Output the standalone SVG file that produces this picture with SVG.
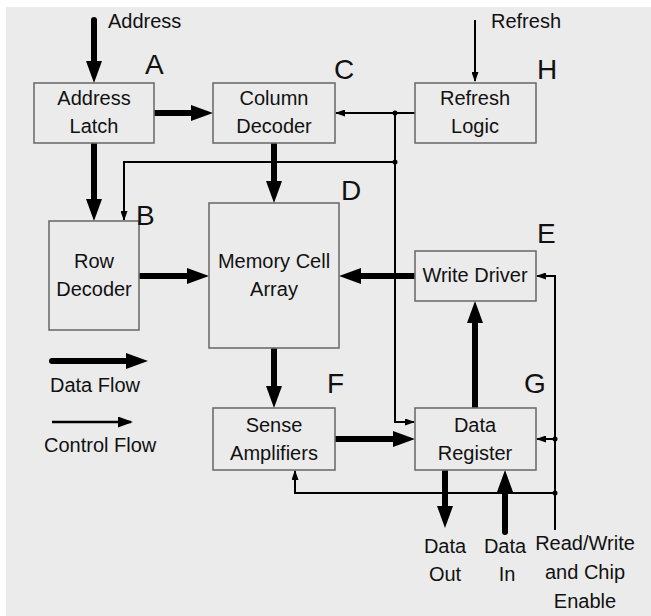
<svg xmlns="http://www.w3.org/2000/svg" width="651" height="616" viewBox="0 0 651 616">
<style>
.box{fill:#ebebeb;stroke:#6e6e6e;stroke-width:1.6}
.t{font-family:"Liberation Sans",Arial,sans-serif;font-size:20px;fill:#111;text-anchor:middle}
.ts{font-family:"Liberation Sans",Arial,sans-serif;font-size:20px;fill:#111}
.lbl{font-family:"Liberation Sans",Arial,sans-serif;font-size:28px;fill:#111}
.thick{fill:none;stroke:#000;stroke-width:6;stroke-linecap:round;marker-end:url(#th)}
.thin{fill:none;stroke:#000;stroke-width:2;marker-end:url(#tn)}
.line{fill:none;stroke:#000;stroke-width:2}
</style>
<defs>
<marker id="th" markerUnits="userSpaceOnUse" markerWidth="22" markerHeight="16" viewBox="0 0 22 16" refX="10" refY="8" orient="auto"><path d="M0,0 L22,8 L0,16 z" fill="#000"/></marker>
<marker id="tn" markerUnits="userSpaceOnUse" markerWidth="10" markerHeight="7" viewBox="0 0 10 7" refX="9" refY="3.5" orient="auto"><path d="M0,0 L10,3.5 L0,7 z" fill="#000"/></marker>
<marker id="tl" markerUnits="userSpaceOnUse" markerWidth="15" markerHeight="11" viewBox="0 0 15 11" refX="13" refY="5.5" orient="auto"><path d="M0,0 L15,5.5 L0,11 z" fill="#000"/></marker>
</defs>
<rect x="6" y="7" width="645" height="609" fill="#ebebeb"/>

<g id="connectors">
<path class="thick" d="M94,20 V71"/>
<path class="thick" d="M154,113 H201"/>
<path class="thick" d="M94,143 V209"/>
<path class="thick" d="M274,143 V191"/>
<path class="thick" d="M139,276 H197"/>
<path class="thick" d="M415,276 H351"/>
<path class="thick" d="M274,348 V396"/>
<path class="thick" d="M335,439 H403"/>
<path class="thick" d="M475,408 V313"/>
<path class="thick" d="M445,470 V516"/>
<path class="thick" d="M505,532 V482"/>
<path class="thin" d="M475,20 V81"/>
<path class="thin" d="M415,113 H336"/>
<path class="thin" d="M395,113 V422 H414"/>
<path class="thin" d="M395,162 H124 V220"/>
<path class="thin" d="M555,530 V276 H537"/>
<path class="thin" d="M555,439 H537"/>
<path class="thin" d="M555,493 H295 V471"/>
<circle cx="395" cy="113" r="2.5"/>
<circle cx="395" cy="162" r="2.5"/>
<circle cx="555" cy="439" r="2.5"/>
<circle cx="555" cy="493" r="2.5"/>
</g>

<g id="A">
<rect class="box" x="34" y="83" width="120" height="60"/>
<text class="t" x="94" y="105">Address</text>
<text class="t" x="94" y="133">Latch</text>
<text class="lbl" x="145" y="74">A</text>
</g>
<g id="C">
<rect class="box" x="213" y="83" width="122" height="60"/>
<text class="t" x="274" y="105">Column</text>
<text class="t" x="274" y="133">Decoder</text>
<text class="lbl" x="334" y="79">C</text>
</g>
<g id="H">
<rect class="box" x="415" y="83" width="121" height="60"/>
<text class="t" x="475" y="105">Refresh</text>
<text class="t" x="475" y="133">Logic</text>
<text class="lbl" x="537" y="79">H</text>
</g>
<g id="B">
<rect class="box" x="49" y="221" width="90" height="109"/>
<text class="t" x="94" y="268">Row</text>
<text class="t" x="94" y="296">Decoder</text>
<text class="lbl" x="136" y="225">B</text>
</g>
<g id="D">
<rect class="box" x="209" y="203" width="130" height="145"/>
<text class="t" x="274" y="268">Memory Cell</text>
<text class="t" x="274" y="296">Array</text>
<text class="lbl" x="341" y="200">D</text>
</g>
<g id="E">
<rect class="box" x="415" y="251" width="121" height="50"/>
<text class="t" x="475" y="282">Write Driver</text>
<text class="lbl" x="537" y="243">E</text>
</g>
<g id="F">
<rect class="box" x="213" y="408" width="122" height="62"/>
<text class="t" x="274" y="432">Sense</text>
<text class="t" x="274" y="460">Amplifiers</text>
<text class="lbl" x="327" y="393">F</text>
</g>
<g id="G">
<rect class="box" x="415" y="408" width="121" height="62"/>
<text class="t" x="475" y="432">Data</text>
<text class="t" x="475" y="460">Register</text>
<text class="lbl" x="524" y="393">G</text>
</g>

<g id="io">
<text class="ts" x="108" y="28">Address</text>
<text class="ts" x="491" y="28">Refresh</text>
<text class="t" x="445" y="553">Data</text>
<text class="t" x="445" y="581">Out</text>
<text class="t" x="505" y="553">Data</text>
<text class="t" x="507" y="581">In</text>
<text class="t" x="585" y="550">Read/Write</text>
<text class="t" x="585" y="579">and Chip</text>
<text class="t" x="585" y="608">Enable</text>
</g>

<g id="legend">
<path class="thick" d="M52,361 H136"/>
<text class="ts" x="50" y="392">Data Flow</text>
<path fill="none" stroke="#000" stroke-width="2.5" marker-end="url(#tl)" d="M52,422 H131"/>
<text class="ts" x="44" y="452">Control Flow</text>
</g>
</svg>
